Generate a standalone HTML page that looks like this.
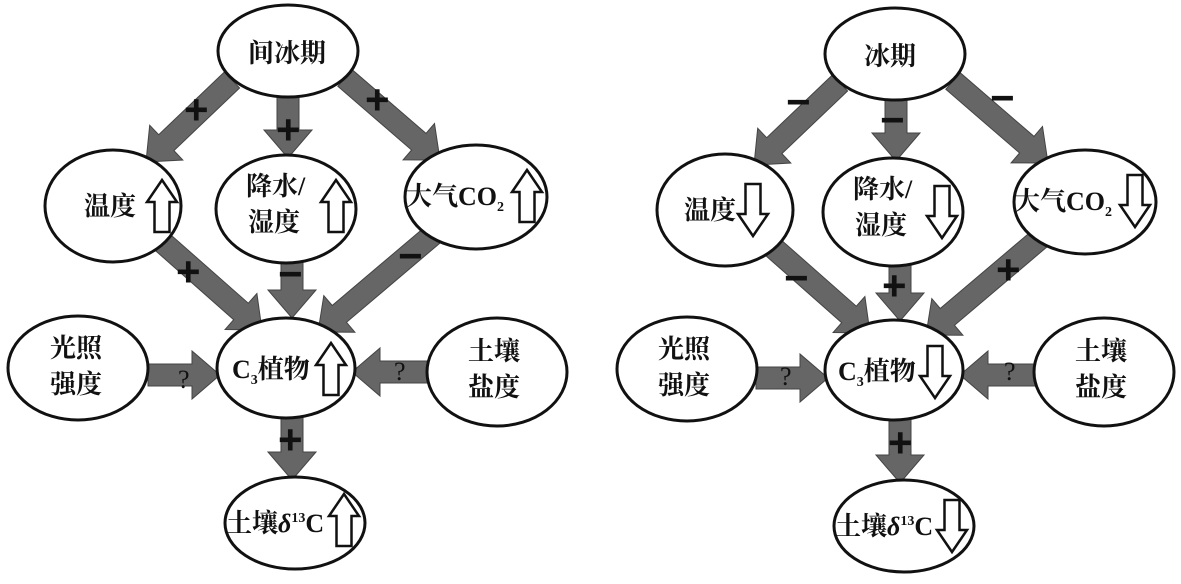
<!DOCTYPE html>
<html><head><meta charset="utf-8"><style>
html,body{margin:0;padding:0;background:#fff}
svg{display:block}
text{font-family:"Liberation Serif","Noto Serif CJK SC",serif;font-size:26px;font-weight:bold;fill:#111}
.s{font-family:"Liberation Sans",sans-serif;font-size:42px;font-weight:bold}
.q{font-size:26px;font-weight:normal}
</style></head><body>
<svg id="sv" width="1181" height="584" viewBox="0 0 1181 584" xmlns="http://www.w3.org/2000/svg">
<g id="arrows"></g>
<g fill="#fff" stroke="#111" stroke-width="3">
<ellipse cx="288" cy="51" rx="70" ry="46"/>
<ellipse cx="113" cy="206" rx="68" ry="56"/>
<ellipse cx="286" cy="209" rx="70" ry="54"/>
<ellipse cx="476" cy="197" rx="71" ry="52"/>
<ellipse cx="286" cy="368" rx="69" ry="50"/>
<ellipse cx="78" cy="368" rx="70" ry="52"/>
<ellipse cx="497" cy="372" rx="70" ry="54"/>
<ellipse cx="295" cy="523" rx="70" ry="46"/>
<ellipse cx="895" cy="54" rx="70" ry="46"/>
<ellipse cx="725" cy="210" rx="68" ry="56"/>
<ellipse cx="893" cy="212" rx="70" ry="54"/>
<ellipse cx="1085" cy="202" rx="71" ry="52"/>
<ellipse cx="894" cy="370" rx="69" ry="50"/>
<ellipse cx="687" cy="369" rx="70" ry="52"/>
<ellipse cx="1104" cy="372" rx="70" ry="54"/>
<ellipse cx="904" cy="526" rx="70" ry="46"/>
</g>
<g id="hollow" fill="#fff" stroke="#111" stroke-width="2.5"></g>
<text x="248" y="62">间冰期</text>
<text x="84" y="215">温度</text>
<text x="246" y="195">降水/</text>
<text x="248" y="231">湿度</text>
<text x="406" y="205">大气CO<tspan font-size="14" dy="6">2</tspan></text>
<text x="232" y="378">C<tspan font-size="14" dy="6">3</tspan><tspan dy="-6">植物</tspan></text>
<text x="50" y="357">光照</text>
<text x="50" y="393">强度</text>
<text x="468" y="360">土壤</text>
<text x="468" y="396">盐度</text>
<text x="226" y="532">土壤<tspan font-style="italic">δ</tspan><tspan font-size="14" dy="-10">13</tspan><tspan dy="10">C</tspan></text>
<text x="864" y="65">冰期</text>
<text x="684" y="219">温度</text>
<text x="853" y="198">降水/</text>
<text x="855" y="234">湿度</text>
<text x="1014" y="210">大气CO<tspan font-size="14" dy="6">2</tspan></text>
<text x="838" y="380">C<tspan font-size="14" dy="6">3</tspan><tspan dy="-6">植物</tspan></text>
<text x="658" y="358">光照</text>
<text x="658" y="394">强度</text>
<text x="1075" y="360">土壤</text>
<text x="1075" y="396">盐度</text>
<text x="835" y="535">土壤<tspan font-style="italic">δ</tspan><tspan font-size="14" dy="-10">13</tspan><tspan dy="10">C</tspan></text>
<text class="s" x="184" y="124">+</text>
<text class="s" x="276" y="144">+</text>
<text class="s" x="365" y="114">+</text>
<text class="s" x="176" y="286">+</text>
<text class="s" x="278" y="288">−</text>
<text class="s" x="398" y="270">−</text>
<text class="s" x="278" y="454">+</text>
<text class="s" x="786" y="116">−</text>
<text class="s" x="880" y="134">−</text>
<text class="s" x="990" y="112">−</text>
<text class="s" x="784" y="292">−</text>
<text class="s" x="882" y="300">+</text>
<text class="s" x="996" y="284">+</text>
<text class="s" x="888" y="457">+</text>
<text class="q" x="178" y="388">?</text>
<text class="q" x="394" y="380">?</text>
<text class="q" x="780" y="385">?</text>
<text class="q" x="1004" y="380">?</text>
</svg>
<script>
var ns="http://www.w3.org/2000/svg";
function arrow(x1,y1,x2,y2,sw,hw,hl){
 var dx=x2-x1,dy=y2-y1,L=Math.hypot(dx,dy),ux=dx/L,uy=dy/L,px=-uy,py=ux;
 var bx=x2-ux*hl,by=y2-uy*hl;
 var p=[[x1+px*sw/2,y1+py*sw/2],[bx+px*sw/2,by+py*sw/2],[bx+px*hw/2,by+py*hw/2],[x2,y2],
 [bx-px*hw/2,by-py*hw/2],[bx-px*sw/2,by-py*sw/2],[x1-px*sw/2,y1-py*sw/2]];
 var e=document.createElementNS(ns,"polygon");
 e.setAttribute("points",p.map(function(a){return a[0].toFixed(1)+","+a[1].toFixed(1)}).join(" "));
 e.setAttribute("fill","#666");e.setAttribute("stroke","#444");e.setAttribute("stroke-width","1");
 document.getElementById("arrows").appendChild(e);
}
function diag(ox,oy){
 var A=[[232,80,146,162],[288,95,288,158],[345,78,440,160],[160,240,262,330],[292,255,292,318],[436,232,318,332],[148,375,220,375],[430,372,352,372],[292,410,292,480]];
 A.forEach(function(a){arrow(a[0]+ox,a[1]+oy,a[2]+ox,a[3]+oy,22,48,28);});
}
diag(0,0);diag(608,3);
function hollow(x,y,up){
 var w=30,sw=15,h=52,hl=22,p;
 if(up)p=[[x,y],[x+w/2,y+hl],[x+sw/2,y+hl],[x+sw/2,y+h],[x-sw/2,y+h],[x-sw/2,y+hl],[x-w/2,y+hl]];
 else p=[[x,y+h],[x+w/2,y+h-hl],[x+sw/2,y+h-hl],[x+sw/2,y],[x-sw/2,y],[x-sw/2,y+h-hl],[x-w/2,y+h-hl]];
 var e=document.createElementNS(ns,"polygon");
 e.setAttribute("points",p.map(function(a){return a.join(",")}).join(" "));
 document.getElementById("hollow").appendChild(e);
}
[[162,180],[336,180],[527,170],[331,343],[344,494]].forEach(function(a){hollow(a[0],a[1],true)});
[[753,184],[942,186],[1135,175],[935,346],[952,500]].forEach(function(a){hollow(a[0],a[1],false)});
</script>
</body></html>
